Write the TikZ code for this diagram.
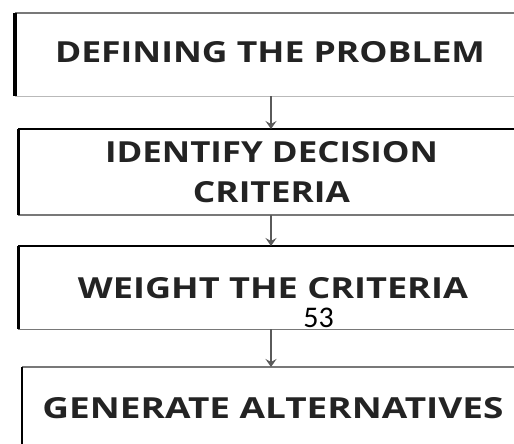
\documentclass[tikz,border=0pt]{standalone}
\usepackage{fontspec}
\usepackage{graphicx}
\setmainfont{Open Sans}
\newfontfamily\numfont{Carlito}
\usetikzlibrary{arrows.meta}
\definecolor{ink}{RGB}{35,35,35}
\definecolor{edgegray}{RGB}{120,120,120}
\definecolor{lightedge}{RGB}{185,185,185}
% stretch a label to a given width, keeping its height
\newcommand{\stretchto}[2]{\resizebox{#1}{\height}{#2}}
\begin{document}
\begin{tikzpicture}[x=1pt,y=-1pt,
  stagebox/.style={rectangle, inner sep=0pt, minimum width=540pt, anchor=north west},
  label/.style={inner sep=0pt, anchor=base, text=ink, font=\fontsize{29}{30}\selectfont\bfseries},
  heavy/.style={line width=#1, black},
  flow/.style={line width=2.2pt, draw=ink!75, -{Stealth[length=8pt,width=11pt,inset=3pt]}}]
\useasboundingbox (0,0) rectangle (514,444);
\fill[white] (0,0) rectangle (514,444);
\clip (0,0) rectangle (514,444);

% the four stages
\node[stagebox, minimum height=83pt] (b1) at (15,13) {};
\node[stagebox, minimum height=86pt] (b2) at (18,129) {};
\node[stagebox, minimum height=83pt] (b3) at (18,246) {};
\node[stagebox, minimum height=93pt] (b4) at (22,367) {};

% box edges
\draw[line width=1.5pt, edgegray] (b1.north west) -- (b1.north east);
\draw[line width=1pt, lightedge] (b1.south west) -- (b1.south east);
\draw[heavy=4.5pt] (b1.north west) -- (b1.south west);

\draw[heavy=2pt] (b2.north west) -- (b2.north east);
\draw[line width=2pt, edgegray] (b2.south west) -- (b2.south east);
\draw[heavy=3pt] (b2.north west) -- (b2.south west);

\draw[heavy=2pt] (b3.north west) -- (b3.north east);
\draw[line width=1pt, edgegray] (b3.south west) -- (b3.south east);
\draw[heavy=3pt] (b3.north west) -- (b3.south west);

\draw[line width=2pt, edgegray] (b4.north west) -- (b4.north east);
\draw[heavy=2.5pt] (b4.north west) -- (b4.south west);

% labels
\node[label] (t1) at (270,63) {\stretchto{430pt}{DEFINING THE PROBLEM}};
\node[label] (t2a) at (271.5,162) {\stretchto{333pt}{IDENTIFY DECISION}};
\node[label] (t2b) at (271.5,202) {\stretchto{157pt}{CRITERIA}};
\node[label] (t3) at (273,298) {\stretchto{390pt}{WEIGHT THE CRITERIA}};
\node[label] (t4) at (273,418) {\stretchto{461pt}{GENERATE ALTERNATIVES}};
\node[inner sep=0pt, anchor=base, font=\numfont\fontsize{30}{31}\selectfont] (pg) at (318.5,327) {53};

% connectors
\coordinate (ax) at (271,0);
\draw[flow] (b1.south -| ax) -- (b2.north -| ax);
\draw[flow] (b2.south -| ax) -- (b3.north -| ax);
\draw[flow] (b3.south -| ax) -- (b4.north -| ax);
\end{tikzpicture}
\end{document}
